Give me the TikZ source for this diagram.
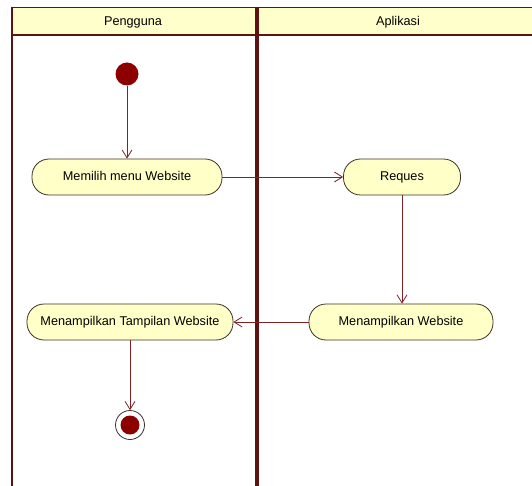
\documentclass[tikz,border=0pt]{standalone}
\usepackage{fontspec}
\setmainfont{Liberation Sans}
\usetikzlibrary{arrows.meta}
\definecolor{lanefill}{RGB}{255,255,204}
\definecolor{lanestroke}{RGB}{95,18,18}
\definecolor{actfill}{RGB}{255,255,200}
\definecolor{actstroke}{RGB}{60,50,40}
\definecolor{flow}{RGB}{125,35,35}
\definecolor{dot}{RGB}{140,0,0}
\begin{document}
\begin{tikzpicture}[x=1pt,y=-1pt,
  activity/.style={draw=actstroke, line width=0.8pt, fill=actfill,
    rounded corners=17pt, minimum height=36pt, inner sep=0pt,
    text height=9pt, text depth=2.5pt,
    font=\fontsize{12.7}{14}\selectfont},
  lanetitle/.style={inner sep=0pt, text height=9pt, text depth=2.5pt,
    font=\fontsize{12.7}{14}\selectfont},
  flowline/.style={draw=flow, line width=0.8pt,
    -{Straight Barb[length=8pt,width=10pt]}},
  laneline/.style={draw=lanestroke, line cap=butt}]
  \useasboundingbox (0,0) rectangle (532,486);
  \fill[white] (0,0) rectangle (532,486);

  % swimlane header band
  \fill[lanefill] (11,8) rectangle (532,35);
  \draw[laneline, line width=1pt] (11,8) -- (532,8);
  \draw[laneline, line width=2pt] (11,35) -- (532,35);
  % lane borders
  \draw[laneline, line width=2pt] (12,8) -- (12,486);
  \draw[laneline, line width=3.2pt] (257,8) -- (257,486);

  \node[lanetitle] (hp) at (133,22) {Pengguna};
  \node[lanetitle] (ha) at (398,22) {Aplikasi};

  % start and end states
  \node[circle, fill=dot, minimum size=23pt, inner sep=0pt] (start) at (127,74) {};
  \node[circle, draw=actstroke, line width=0.8pt, fill=white,
        minimum size=29pt, inner sep=0pt] (end) at (130,425) {};
  \fill[dot] (end.center) circle (9.5pt);

  % activities
  \node[activity, minimum width=190pt] (pilih) at (127,177) {Memilih menu Website};
  \node[activity, minimum width=117pt] (reques) at (402,177) {Reques};
  \node[activity, minimum width=184pt] (tampil) at (401,322) {Menampilkan Website};
  \node[activity, minimum width=206pt] (tampilan) at (130,322) {Menampilkan Tampilan Website};

  % control flows
  \draw[flowline] (start) -- (pilih);
  \draw[flowline] (pilih) -- (reques);
  \draw[flowline] (reques.south) -- (reques.south |- tampil.north);
  \draw[flowline] (tampil) -- (tampilan);
  \draw[flowline] (tampilan) -- (end);
\end{tikzpicture}
\end{document}
